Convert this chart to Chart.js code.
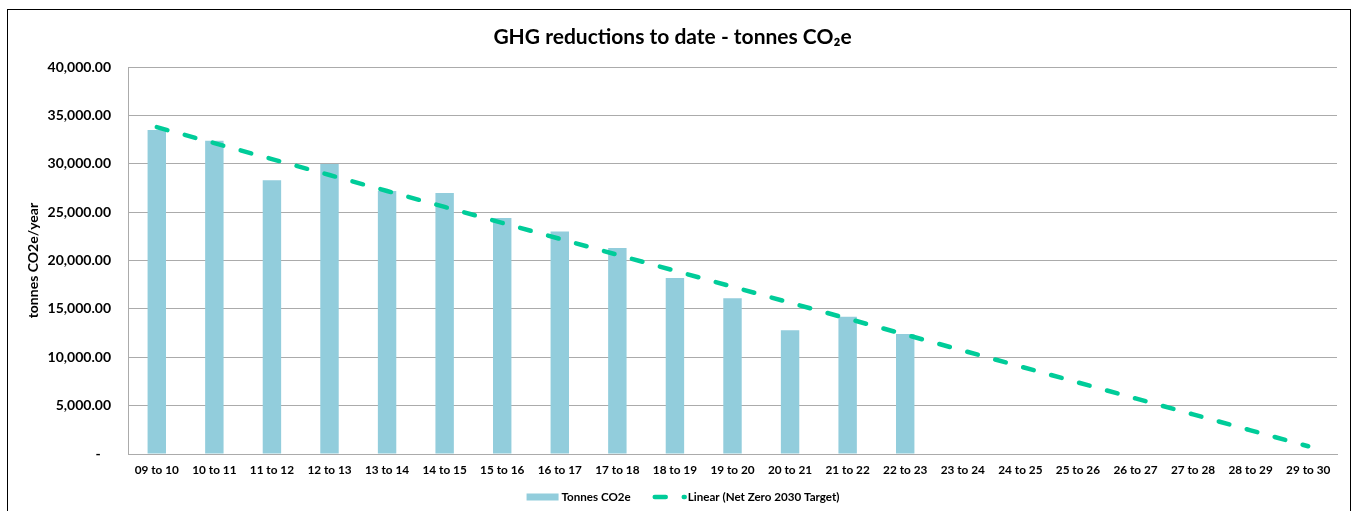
<!DOCTYPE html>
<html>
<head>
<meta charset="utf-8">
<script src="https://cdn.jsdelivr.net/npm/chart.js@4"></script>
<style>
  html, body { margin: 0; padding: 0; background: #fff; }
  #wrap { position: relative; width: 1358px; height: 511px; overflow: hidden; }
  #frame { position: absolute; left: 7px; top: 9px; width: 1344px; height: 530px; border: 1px solid #000; box-sizing: border-box; }
  #cv { position: absolute; left: 0; top: 0; }
</style>
</head>
<body>
<div id="wrap">
  <div id="frame"></div>
  <canvas id="cv" width="1358" height="511"></canvas>
</div>
<script>
const categories = ['09 to 10','10 to 11','11 to 12','12 to 13','13 to 14','14 to 15','15 to 16','16 to 17','17 to 18','18 to 19','19 to 20','20 to 21','21 to 22','22 to 23','23 to 24','24 to 25','25 to 26','26 to 27','27 to 28','28 to 29','29 to 30'];
const tonnesCO2e = [33500, 32400, 28300, 30000, 27200, 27000, 24400, 23000, 21300, 18200, 16100, 12800, 14200, 12400, null, null, null, null, null, null, null];
const netZeroTarget = [33800, 32150, 30500, 28850, 27200, 25550, 23900, 22250, 20600, 18950, 17300, 15650, 14000, 12350, 10700, 9050, 7400, 5750, 4100, 2450, 800];
const yMin = 0, yMax = 40000, yStep = 5000;

const FONT = 'Lato, "Open Sans", sans-serif';
const BAR_COLOR = '#92CDDC';
const LINE_COLOR = '#00CC99';
const GRID_COLOR = '#ababab';
const DASH = [11, 18];

const legendPlugin = {
  id: 'excelLegend',
  afterDraw(chart) {
    const ctx = chart.ctx;
    const y = 497;
    ctx.save();
    ctx.font = 'bold 11.6px ' + FONT;
    ctx.textBaseline = 'middle';
    ctx.fillStyle = '#000';
    const t1 = chart.data.datasets[0].label;
    const t2 = chart.data.datasets[1].label;
    const w1 = ctx.measureText(t1).width;
    const w2 = ctx.measureText(t2).width;
    const sw = 32, gapTxt = 3, gapItems = 22;
    const total = sw + gapTxt + w1 + gapItems + sw + gapTxt + w2;
    let x = 683 - total / 2;
    ctx.fillStyle = BAR_COLOR;
    ctx.fillRect(x, y - 3.5, sw, 7);
    x += sw + gapTxt;
    ctx.fillStyle = '#000';
    ctx.fillText(t1, x, y);
    x += w1 + gapItems;
    ctx.strokeStyle = LINE_COLOR;
    ctx.lineWidth = 4.5;
    ctx.lineCap = 'round';
    ctx.setLineDash(DASH);
    ctx.beginPath();
    ctx.moveTo(x + 2, y);
    ctx.lineTo(x + sw, y);
    ctx.stroke();
    ctx.setLineDash([]);
    x += sw + gapTxt;
    ctx.fillText(t2, x, y);
    ctx.restore();
  }
};

new Chart(document.getElementById('cv'), {
  data: {
    labels: categories,
    datasets: [
      {
        type: 'bar',
        label: 'Tonnes CO2e',
        data: tonnesCO2e,
        backgroundColor: BAR_COLOR,
        borderWidth: 0,
        categoryPercentage: 1.0,
        barPercentage: 0.32,
        order: 2
      },
      {
        type: 'line',
        label: 'Linear (Net Zero 2030 Target)',
        data: netZeroTarget,
        borderColor: LINE_COLOR,
        backgroundColor: LINE_COLOR,
        borderWidth: 4.5,
        borderDash: DASH,
        borderCapStyle: 'round',
        pointRadius: 0,
        pointHoverRadius: 0,
        tension: 0,
        fill: false,
        order: 1
      }
    ]
  },
  options: {
    responsive: false,
    animation: false,
    events: [],
    layout: { padding: { left: 8, right: 21, top: 0, bottom: 33 } },
    plugins: {
      legend: { display: false },
      tooltip: { enabled: false },
      title: {
        display: true,
        text: 'GHG reductions to date - tonnes CO\u2082e',
        color: '#000',
        font: { family: FONT, size: 21, weight: 'bold' },
        padding: { top: 25, bottom: 17 }
      }
    },
    scales: {
      x: {
        offset: true,
        grid: { display: false, drawTicks: false },
        border: { display: true, color: GRID_COLOR, width: 1 },
        ticks: {
          color: '#000',
          font: { family: FONT, size: 11.8, weight: 'bold' },
          padding: 9,
          maxRotation: 0,
          autoSkip: false
        },
        afterFit(scale) { scale.height = 24; }
      },
      y: {
        min: yMin,
        max: yMax,
        grid: { color: GRID_COLOR, lineWidth: 1, drawTicks: false },
        border: { display: true, color: GRID_COLOR, width: 1 },
        ticks: {
          stepSize: yStep,
          color: '#000',
          font: { family: FONT, size: 14, weight: 'bold' },
          padding: 17,
          callback: (v) => v === 0 ? '-   ' : v.toLocaleString('en-US', { minimumFractionDigits: 2, maximumFractionDigits: 2 })
        },
        title: {
          display: true,
          text: 'tonnes CO2e/year',
          color: '#000',
          font: { family: FONT, size: 14, weight: 'bold' },
          padding: { top: 17, bottom: 0 }
        },
        afterFit(scale) { scale.width = 120; }
      }
    }
  },
  plugins: [legendPlugin]
});
</script>
</body>
</html>
